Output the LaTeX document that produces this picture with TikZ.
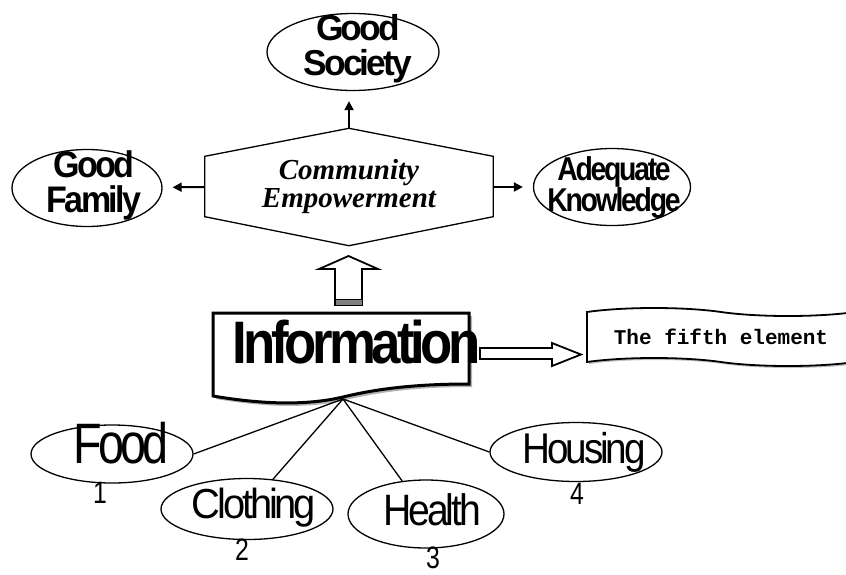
\documentclass[tikz,border=0pt]{standalone}
\usepackage{fontspec}
\setmainfont{Liberation Sans}
\newfontfamily\tight[LetterSpace=-8]{Liberation Sans}
\newfontfamily\bookish{Liberation Serif}
\newfontfamily\typewriter{Liberation Mono}
\usetikzlibrary{shapes.geometric}
\usetikzlibrary{shapes.symbols}
\usetikzlibrary{shadows}
\usetikzlibrary{arrows.meta}
\usetikzlibrary{calc}

% squeezed words: #1 = horizontal factor, #2 = lines
\newcommand{\squash}[2]{\scalebox{#1}[1]{\begin{tabular}{@{}c@{}}#2\end{tabular}}}

\tikzset{
  oval/.style={ellipse, draw, line width=1.3pt, inner sep=0pt},
  word/.style={inner sep=0pt, font=\tight\fontsize{#1}{#1}\selectfont},
  digit/.style={inner sep=0pt, font=\fontsize{#1}{#1}\selectfont},
  heavy/.style 2 args={inner sep=0pt, font=\tight\bfseries\fontsize{#1}{#2}\selectfont},
  pointer/.style={line width=2pt, -{Triangle[length=9pt,width=9pt]}, shorten >=10pt},
  spoke/.style={line width=1.3pt},
  blockarrow/.style={draw, fill=white, line width=1.8pt, line join=miter}
}

\begin{document}
\begin{tikzpicture}[x=1pt,y=-1pt]
  \useasboundingbox (0,0) rectangle (846,574);

  % top part
  \node[font=\bookish\bfseries\itshape\fontsize{29}{28}\selectfont, align=center,
        minimum width=288pt, minimum height=117pt, inner sep=0pt] (emp) at (349,187)
        {Community\\Empowerment};
  \draw[line width=1.3pt] (emp.north) -- ($(emp.north east)+(0,28)$)
        -- ($(emp.south east)-(0,29)$) -- (emp.south)
        -- ($(emp.south west)-(0,29)$) -- ($(emp.north west)+(0,28)$) -- cycle;

  \node[oval, minimum width=172pt, minimum height=77pt] (society) at (353,52) {};
  \node[heavy={36}{32}] (societytxt) at (358,49.6) {\squash{.98}{Good\\Society}};
  \node[oval, minimum width=150pt, minimum height=77pt] (family) at (87,188) {};
  \node[heavy={37}{30}] (familytxt) at (94,186) {\squash{.92}{Good\\Family}};
  \node[oval, minimum width=157pt, minimum height=77pt] (knowledge) at (612,187) {};
  \node[heavy={33}{24}] (knowledgetxt) at (614,187.2) {\squash{.86}{Adequate\\Knowledge}};

  \draw[pointer] (emp.north) -- (emp.north |- society.south);
  \draw[pointer] (emp.west) -- (family);
  \draw[pointer] (emp.east) -- (knowledge);

  % hollow arrow up
  \filldraw[blockarrow] (335,305) -- (335,269) -- (319,269) -- (348.5,256)
        -- (378,269) -- (362,269) -- (362,305) -- cycle;
  \filldraw[fill=gray, line width=1pt] (335,299) rectangle (362,305);

  % information box
  \filldraw[line width=3pt, line join=miter, fill=white,
        drop shadow={shadow xshift=3pt, shadow yshift=-3pt, opacity=.6}]
        (213,313) -- (469,313) -- (469,384)
        .. controls (420,384) and (380,388) .. (343,397)
        .. controls (305,406) and (260,404) .. (213,396) -- cycle;
  \coordinate (infotip) at (343,399);
  \node[heavy={60}{60}] (info) at (357,351) {\squash{.88}{Information}};

  \filldraw[blockarrow] (480,348) -- (552,348) -- (552,343) -- (581,354.5)
        -- (552,366) -- (552,359) -- (480,359) -- cycle;

  \node[tape, draw, fill=white, line width=1.8pt, minimum width=268pt, minimum height=58pt,
        tape bend top=out and in, tape bend bottom=out and in, tape bend height=8pt,
        drop shadow={shadow xshift=2pt, shadow yshift=-2pt, opacity=.5},
        font=\typewriter\bfseries\fontsize{21}{21}\selectfont] (fifth) at (721,337)
        {The fifth element};

  % the four needs
  \node[oval, minimum width=162pt, minimum height=58pt] (food) at (112,454) {};
  \node[word=57] (foodtxt) at (121,451.6) {\squash{.82}{Food}};
  \node[oval, minimum width=172pt, minimum height=61pt] (cloth) at (247,509) {};
  \node[word=42] (clothtxt) at (254,509.6) {\squash{.95}{Clothing}};
  \node[oval, minimum width=156pt, minimum height=68pt] (health) at (426,514) {};
  \node[word=44] (healthtxt) at (432,516) {\squash{.89}{Health}};
  \node[oval, minimum width=172pt, minimum height=59pt] (house) at (576,452) {};
  \node[word=43] (housetxt) at (584,454.4) {\squash{.9}{Housing}};

  \node[digit=31] (n1) at (100,497) {\squash{.8}{1}};
  \node[digit=31] (n2) at (242,554) {\squash{.8}{2}};
  \node[digit=31] (n3) at (433,562) {\squash{.8}{3}};
  \node[digit=31] (n4) at (577,498) {\squash{.8}{4}};

  \draw[spoke] (infotip) -- (food.east);
  \draw[spoke] (infotip) -- (cloth);
  \draw[spoke] (infotip) -- (health);
  \draw[spoke] (infotip) -- (house.west);
\end{tikzpicture}
\end{document}
